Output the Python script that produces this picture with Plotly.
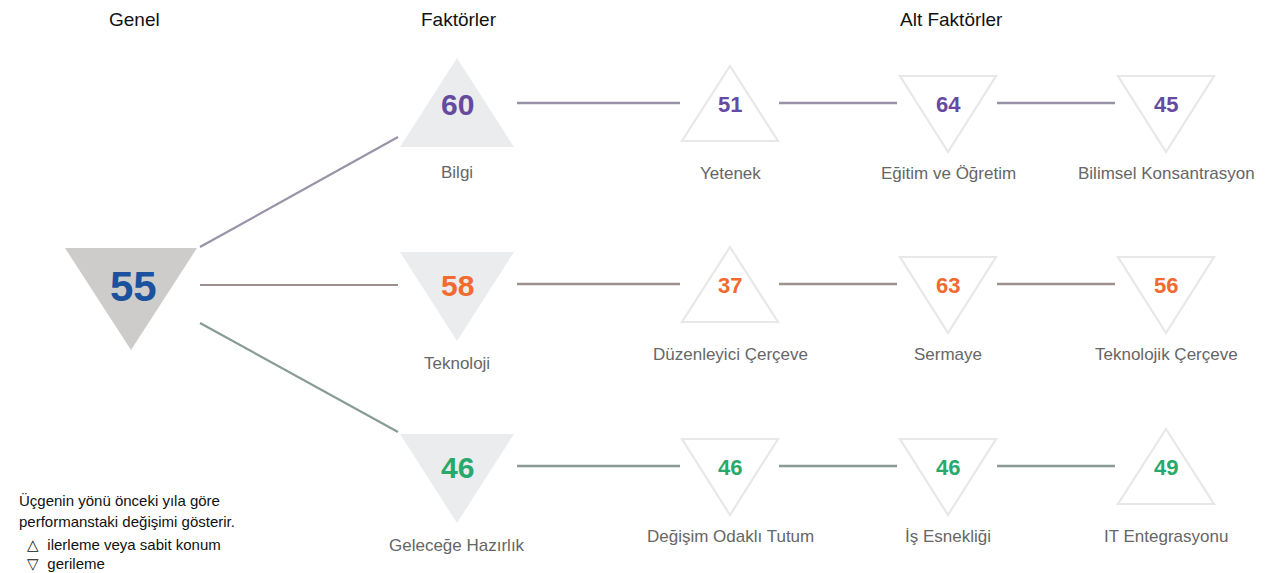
import plotly.graph_objects as go

# ---------------- data ----------------
headers = ["Genel", "Faktörler", "Alt Faktörler"]
overall_value = 55
overall_dir = "down"
factor_names = ["Bilgi", "Teknoloji", "Geleceğe Hazırlık"]
factor_values = [60, 58, 46]
factor_dirs = ["up", "down", "down"]
sub_names = [
    ["Yetenek", "Eğitim ve Öğretim", "Bilimsel Konsantrasyon"],
    ["Düzenleyici Çerçeve", "Sermaye", "Teknolojik Çerçeve"],
    ["Değişim Odaklı Tutum", "İş Esnekliği", "IT Entegrasyonu"],
]
sub_values = [[51, 64, 45], [37, 63, 56], [46, 46, 49]]
sub_dirs = [["up", "down", "down"], ["up", "down", "down"], ["down", "down", "up"]]
legend_lines = ["Üçgenin yönü önceki yıla göre", "performanstaki değişimi gösterir."]
legend_items = ["△  ilerleme veya sabit konum", "▽  gerileme"]

# ---------------- layout / style ----------------
W, H = 1268, 573
genel_x, genel_y = 131, 286
factor_x = 457
sub_x = [730, 948, 1166]
row_y = [104, 285, 467]
header_x = [134, 459, 951]
row_num_colors = ["#654a9f", "#f26a2e", "#27a96c"]
row_line_colors = ["#9a93a8", "#9d918d", "#889c95"]
overall_color = "#1b519d"
label_color = "#666666"
FONT = "Liberation Sans, Arial, sans-serif"

fig = go.Figure()
shapes = []
annotations = []


def tri_path(cx, cy, half_w, up_off, down_off, direction):
    # up: apex at cy-up_off, base at cy+down_off ; down: base at cy-up_off, apex at cy+down_off
    if direction == "up":
        pts = [(cx, cy - up_off), (cx + half_w, cy + down_off), (cx - half_w, cy + down_off)]
    else:
        pts = [(cx - half_w, cy - up_off), (cx + half_w, cy - up_off), (cx, cy + down_off)]
    return "M " + " L ".join(f"{x},{y}" for x, y in pts) + " Z"


def add_tri(cx, cy, kind, direction):
    if kind == "genel":
        p = tri_path(cx, cy, 66, 38, 64, direction)
        shapes.append(dict(type="path", path=p, xref="x", yref="y", fillcolor="#cdcccb",
                           line=dict(width=0), layer="below"))
    elif kind == "factor":
        if direction == "up":
            p = tri_path(cx, cy, 57, 46, 43, direction)
        else:
            p = tri_path(cx, cy, 57, 33, 56, direction)
        shapes.append(dict(type="path", path=p, xref="x", yref="y", fillcolor="#ebecee",
                           line=dict(width=0), layer="below"))
    else:
        if direction == "up":
            p = tri_path(cx, cy, 48, 38, 37, direction)
        else:
            p = tri_path(cx, cy, 48, 28, 48, direction)
        shapes.append(dict(type="path", path=p, xref="x", yref="y", fillcolor="rgba(0,0,0,0)",
                           line=dict(width=2.2, color="#e8e8e8"), layer="below"))


def add_text(x, y, txt, size, color, bold=False, xanchor="center"):
    annotations.append(dict(x=x, y=y, xref="x", yref="y", text=f"<b>{txt}</b>" if bold else txt,
                            showarrow=False, xanchor=xanchor, yanchor="middle",
                            font=dict(family=FONT, size=size, color=color)))


# headers
for hx, h in zip(header_x, headers):
    add_text(hx, 19, h, 19, "#111111")

# overall
add_tri(genel_x, genel_y, "genel", overall_dir)
add_text(genel_x + 2, genel_y, str(overall_value), 42, overall_color, bold=True)

# connectors from overall to factors
conn_start = [(200, genel_y - 39), (200, genel_y - 1), (200, genel_y + 37)]
conn_end_off = [33, 0, -35]
for i in range(3):
    sx, sy = conn_start[i]
    fig.add_trace(go.Scatter(x=[sx, 398], y=[sy, row_y[i] + conn_end_off[i]], mode="lines",
                             line=dict(color=row_line_colors[i], width=2.2),
                             hoverinfo="skip", showlegend=False))

for i in range(3):
    y = row_y[i]
    # factor
    add_tri(factor_x, y, "factor", factor_dirs[i])
    add_text(factor_x, y, str(factor_values[i]), 30, row_num_colors[i], bold=True)
    f_label_off = 68 if factor_dirs[i] == "up" else 78
    add_text(factor_x, y + f_label_off, factor_names[i], 17, label_color)
    # row lines
    segs = [(factor_x + 60, sub_x[0] - 50), (sub_x[0] + 49, sub_x[1] - 51), (sub_x[1] + 49, sub_x[2] - 51)]
    for a, b in segs:
        fig.add_trace(go.Scatter(x=[a, b], y=[y - 1, y - 1], mode="lines",
                                 line=dict(color=row_line_colors[i], width=2.5),
                                 hoverinfo="skip", showlegend=False))
    # sub factors
    for j in range(3):
        add_tri(sub_x[j], y, "sub", sub_dirs[i][j])
        add_text(sub_x[j], y, str(sub_values[i][j]), 22, row_num_colors[i], bold=True)
        add_text(sub_x[j], y + 69, sub_names[i][j], 17, label_color)

# legend
add_text(17, 500, legend_lines[0], 15, "#111111", xanchor="left")
add_text(17, 521, legend_lines[1], 15, "#111111", xanchor="left")
add_text(25, 544, legend_items[0], 15, "#111111", xanchor="left")
add_text(25, 563, legend_items[1], 15, "#111111", xanchor="left")

fig.update_layout(
    width=W, height=H, margin=dict(l=0, r=0, t=0, b=0),
    paper_bgcolor="white", plot_bgcolor="white",
    xaxis=dict(range=[0, W], visible=False, fixedrange=True),
    yaxis=dict(range=[H, 0], visible=False, fixedrange=True),
    shapes=shapes, annotations=annotations, showlegend=False,
)

fig.write_html("out.html", post_script="document.body.style.margin='0';",
               config={"displayModeBar": False})
